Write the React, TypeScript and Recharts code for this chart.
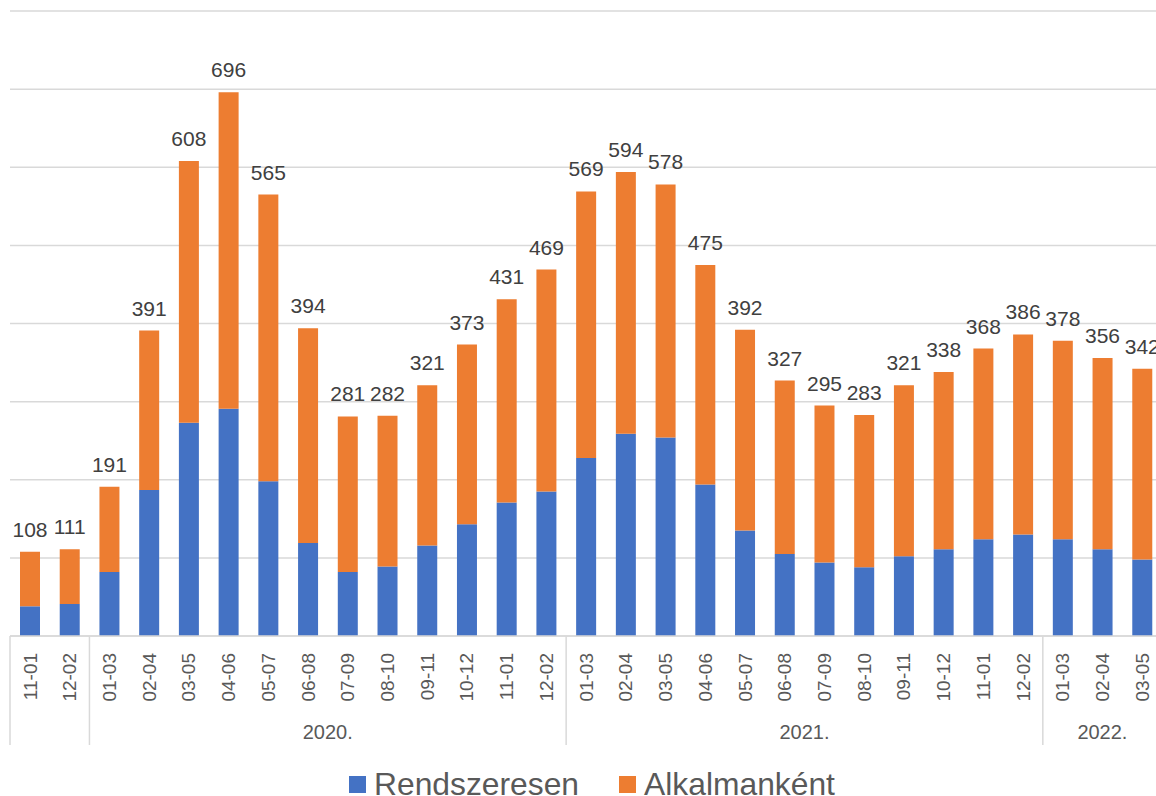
import React from 'react';
import {
    BarChart,
    Bar,
    XAxis,
    YAxis,
    CartesianGrid,
    LabelList,
    Legend
} from 'recharts';

// Period labels (two-month windows) and the year group each belongs to
const periods = [
    '11-01', '12-02',
    '01-03', '02-04', '03-05', '04-06', '05-07', '06-08', '07-09', '08-10', '09-11', '10-12', '11-01', '12-02',
    '01-03', '02-04', '03-05', '04-06', '05-07', '06-08', '07-09', '08-10', '09-11', '10-12', '11-01', '12-02',
    '01-03', '02-04', '03-05'
];

const years = [
    '', '',
    '2020.', '2020.', '2020.', '2020.', '2020.', '2020.', '2020.', '2020.', '2020.', '2020.', '2020.', '2020.',
    '2021.', '2021.', '2021.', '2021.', '2021.', '2021.', '2021.', '2021.', '2021.', '2021.', '2021.', '2021.',
    '2022.', '2022.', '2022.'
];

// Rendszeresen (blue)
const rendszeresen = [
    38, 41,
    82, 187, 273, 291, 198, 119, 82, 89, 116, 143, 171, 185,
    228, 259, 254, 194, 135, 105, 94, 88, 102, 111, 124, 130,
    124, 111, 98
];

// Alkalmanként (orange)
const alkalmankent = [
    70, 70,
    109, 204, 335, 405, 367, 275, 199, 193, 205, 230, 260, 284,
    341, 335, 324, 281, 257, 222, 201, 195, 219, 227, 244, 256,
    254, 245, 244
];

// Totals shown above the bars
const totals = [
    108, 111,
    191, 391, 608, 696, 565, 394, 281, 282, 321, 373, 431, 469,
    569, 594, 578, 475, 392, 327, 295, 283, 321, 338, 368, 386,
    378, 356, 342
];

const yTicks = [0, 100, 200, 300, 400, 500, 600, 700, 800];

const seriesNames = ['Rendszeresen', 'Alkalmanként'];
const seriesColors = ['#4472C4', '#ED7D31'];

const FONT = '"Liberation Sans", Arial, sans-serif';
const CHART_W = 1164;
const CHART_H = 796;
const MARGIN = { top: 11, right: 2, bottom: 0, left: 10 };
const BAND = (CHART_W - MARGIN.left - MARGIN.right) / periods.length;

const data = periods.map((p, i) => ({
    period: p,
    rendszeresen: rendszeresen[i],
    alkalmankent: alkalmankent[i],
    total: totals[i]
}));

// Two-level x axis: rotated period label, plus year separators and labels
function CategoryTick(props: any) {
    const { x, y, payload } = props;
    const i: number = payload.index;
    const isGroupStart = i === 0 || years[i] !== years[i - 1];
    const isLast = i === periods.length - 1;

    let yearLabel = null;
    if (isGroupStart && years[i]) {
        let len = 0;
        while (i + len < years.length && years[i + len] === years[i]) len++;
        const cx = x - BAND / 2 + (len * BAND) / 2;
        yearLabel = (
            <text x={cx} y={y + 103} textAnchor="middle" fontSize={20} fill="#595959">
                {years[i]}
            </text>
        );
    }

    return (
        <g>
            <text
                x={x}
                y={y + 17}
                transform={`rotate(-90, ${x}, ${y + 17})`}
                textAnchor="end"
                dy="0.35em"
                fontSize={19}
                fill="#595959"
            >
                {payload.value}
            </text>
            {isGroupStart && (
                <line x1={x - BAND / 2} x2={x - BAND / 2} y1={y} y2={y + 109} stroke="#D9D9D9" strokeWidth={1.5} />
            )}
            {isLast && (
                <line x1={x + BAND / 2} x2={x + BAND / 2} y1={y} y2={y + 109} stroke="#D9D9D9" strokeWidth={1.5} />
            )}
            {yearLabel}
        </g>
    );
}

const renderLegend = () => (
    <div style={{ height: 42, position: 'relative', fontFamily: FONT }}>
        <div
            style={{
                position: 'absolute',
                top: 12,
                left: 339,
                display: 'flex',
                alignItems: 'flex-start',
                whiteSpace: 'nowrap',
                fontSize: 31.8,
                color: '#595959',
                lineHeight: 'normal'
            }}
        >
            {seriesNames.map((name, i) => (
                <div key={name} style={{ display: 'flex', alignItems: 'flex-start', marginRight: i === 0 ? 40 : 0 }}>
                    <span style={{ width: 17, height: 17, marginTop: 10, marginRight: 8, background: seriesColors[i], display: 'inline-block' }} />
                    <span>{name}</span>
                </div>
            ))}
        </div>
    </div>
);

export default function App() {
    return (
        <div style={{ position: 'fixed', left: 0, top: 0, width: 1156, height: 796, overflow: 'hidden', background: '#fff' }}>
            <BarChart
                width={CHART_W}
                height={CHART_H}
                data={data}
                margin={MARGIN}
                barSize={20}
                style={{ fontFamily: FONT }}
            >
                <CartesianGrid vertical={false} stroke="#D9D9D9" strokeWidth={1.5} />
                <YAxis hide domain={[0, 800]} ticks={yTicks} />
                <XAxis
                    dataKey="period"
                    interval={0}
                    tickLine={false}
                    tickSize={0}
                    tickMargin={0}
                    axisLine={{ stroke: '#D9D9D9', strokeWidth: 1.5 }}
                    height={118}
                    tick={<CategoryTick />}
                />
                <Legend verticalAlign="bottom" content={renderLegend} />
                <Bar dataKey="rendszeresen" name={seriesNames[0]} stackId="a" fill={seriesColors[0]} isAnimationActive={false} />
                <Bar dataKey="alkalmankent" name={seriesNames[1]} stackId="a" fill={seriesColors[1]} isAnimationActive={false}>
                    <LabelList dataKey="total" position="top" offset={15} fontSize={21} fill="#404040" />
                </Bar>
            </BarChart>
        </div>
    );
}
